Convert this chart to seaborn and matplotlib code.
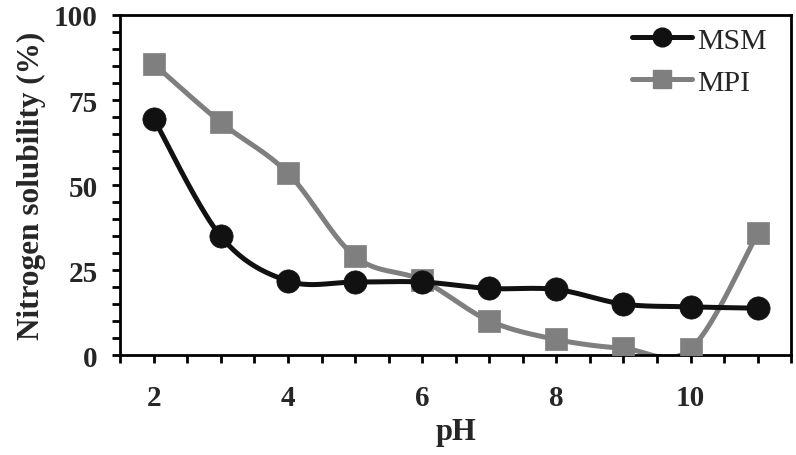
import numpy as np
import pandas as pd
import matplotlib
matplotlib.use("Agg")
import matplotlib.pyplot as plt
import seaborn as sns
from matplotlib.lines import Line2D
from matplotlib.ticker import MultipleLocator

# values
ph = [2, 3, 4, 5, 6, 7, 8, 9, 10, 11]
msm = [69.5, 34.9, 21.8, 21.5, 21.5, 19.6, 19.3, 15.0, 14.2, 13.8]
mpi = [85.6, 68.4, 53.5, 29.0, 22.0, 10.1, 4.6, 2.0, 1.8, 35.8]

colors = {"MSM": "#111111", "MPI": "#7f7f7f"}
markers = {"MSM": "o", "MPI": "s"}


def smooth_curve(x, y, n=40):
    """Excel-style smoothed line (cardinal Bezier, tension 1/6)."""
    pts = np.column_stack([x, y]).astype(float)
    out = []
    for i in range(len(pts) - 1):
        p0 = pts[i - 1] if i > 0 else pts[i]
        p1, p2 = pts[i], pts[i + 1]
        p3 = pts[i + 2] if i + 2 < len(pts) else pts[i + 1]
        c1 = p1 + (p2 - p0) / 6
        c2 = p2 - (p3 - p1) / 6
        t = np.linspace(0, 1, n)[:, None]
        seg = ((1 - t) ** 3) * p1 + 3 * ((1 - t) ** 2) * t * c1 + 3 * (1 - t) * t ** 2 * c2 + t ** 3 * p2
        out.append(seg if i == 0 else seg[1:])
    return np.vstack(out)


sns.set_style("white")
plt.rcParams["font.family"] = ["Liberation Serif", "DejaVu Serif"]

fig, ax = plt.subplots(figsize=(7.96, 4.56), dpi=100)
fig.subplots_adjust(left=0.151, right=0.994, top=0.965, bottom=0.219)

points = pd.DataFrame({"pH": ph * 2, "value": msm + mpi,
                       "series": ["MSM"] * len(ph) + ["MPI"] * len(ph)})

for name in ["MPI", "MSM"]:
    sub = points[points["series"] == name]
    curve = smooth_curve(sub["pH"].values, sub["value"].values)
    cdf = pd.DataFrame({"pH": curve[:, 0], "value": curve[:, 1]})
    sns.lineplot(data=cdf, x="pH", y="value", ax=ax, color=colors[name],
                 linewidth=3.6, sort=False, estimator=None, zorder=2)
    sns.scatterplot(data=sub, x="pH", y="value", ax=ax, color=colors[name],
                    marker=markers[name], s=250 if name == "MPI" else 280,
                    edgecolor=colors[name], linewidth=0.5, zorder=3)

ax.set_xlim(1.5, 11.5)
ax.set_ylim(0, 100)
ax.xaxis.set_major_locator(MultipleLocator(2))
ax.xaxis.set_minor_locator(MultipleLocator(0.5))
ax.yaxis.set_major_locator(MultipleLocator(25))
ax.yaxis.set_minor_locator(MultipleLocator(5))
ax.tick_params(which="both", direction="out", length=6, width=2, color="black",
               bottom=True, left=True, top=False, right=False)
ax.tick_params(axis="x", which="major", labelsize=21, pad=15)
ax.tick_params(axis="y", which="major", labelsize=21, pad=10)
for lab in ax.get_xticklabels() + ax.get_yticklabels():
    lab.set_fontweight("bold")

for sp in ax.spines.values():
    sp.set_color("black")
    sp.set_linewidth(2)

ax.set_xlabel("pH", fontsize=22, fontweight="bold", labelpad=4)
ax.set_ylabel("Nitrogen solubility (%)", fontsize=22.5, fontweight="bold", labelpad=6)

handles = [Line2D([], [], color=colors[n], lw=3.6, marker=markers[n],
                  markersize=13.5, label=n) for n in ["MSM", "MPI"]]
ax.legend(handles=handles, loc="upper right", frameon=False, fontsize=21.5,
          handlelength=2.0, handletextpad=0.2, labelspacing=0.5,
          borderaxespad=0.0, bbox_to_anchor=(0.982, 1.0))

fig.savefig("out.png", dpi=100)
